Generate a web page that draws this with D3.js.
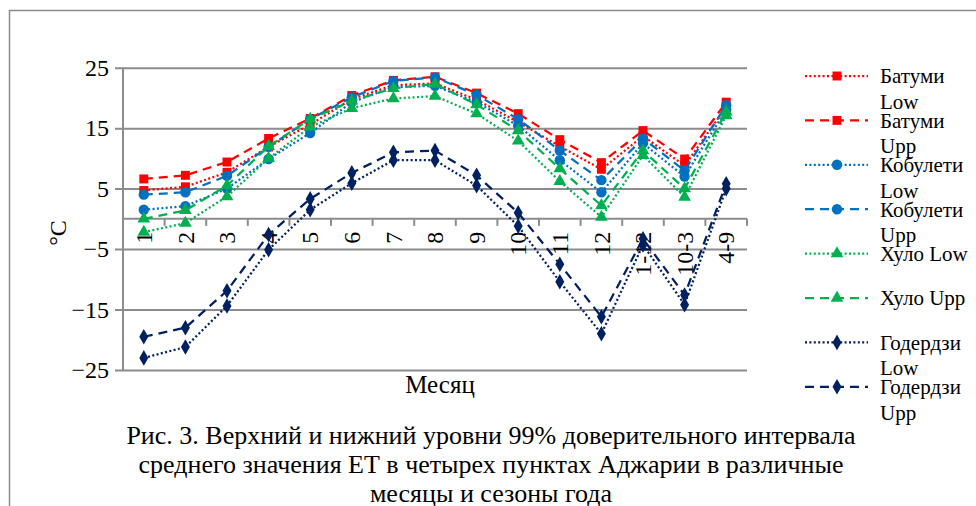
<!DOCTYPE html>
<html>
<head>
<meta charset="utf-8">
<script src="https://cdn.jsdelivr.net/npm/d3@7"></script>
</head>
<body style="margin:0">
<script>
// Months and seasons
const categories = ["1","2","3","4","5","6","7","8","9","10","11","12","1-12","10-3","4-9"];

// Lower / upper bounds of the 99% confidence interval of mean ET, °C
const batumiLow    = [4.7, 5.3, 7.7, 11.9, 15.6, 19.8, 22.1, 22.4, 19.7, 16.0, 12.0, 8.2, 13.7, 8.8, 18.5];
const batumiUpp    = [6.6, 7.2, 9.4, 13.3, 16.6, 20.4, 22.9, 23.5, 20.8, 17.4, 13.1, 9.3, 14.6, 9.9, 19.3];
const kobuletiLow  = [1.5, 2.1, 5.0, 9.9, 14.2, 19.3, 21.8, 22.0, 19.3, 15.4, 9.7, 4.4, 12.5, 7.0, 18.1];
const kobuletiUpp  = [4.0, 4.4, 7.1, 11.9, 16.5, 20.1, 22.8, 23.4, 20.5, 16.5, 11.3, 6.4, 13.3, 8.0, 18.8];
const khuloLow     = [-2.2, -0.7, 3.7, 10.0, 15.2, 18.3, 19.9, 20.3, 17.4, 12.9, 6.2, 0.3, 10.5, 3.6, 17.1];
const khuloUpp     = [0.0, 1.4, 5.5, 12.0, 16.5, 19.5, 21.6, 22.3, 18.9, 14.6, 8.3, 2.2, 11.3, 5.0, 17.7];
const goderdziLow  = [-23.0, -21.2, -14.4, -5.1, 1.5, 5.9, 9.7, 9.7, 5.5, -1.2, -10.4, -19.0, -4.3, -14.2, 5.0];
const goderdziUpp  = [-19.5, -18.0, -11.9, -2.6, 3.3, 7.6, 11.0, 11.3, 7.2, 1.0, -7.5, -16.2, -3.3, -12.6, 5.8];

const seriesNames = ["Батуми Low", "Батуми Upp", "Кобулети Low", "Кобулети Upp",
                     "Хуло Low", "Хуло Upp", "Годердзи Low", "Годердзи Upp"];
const yTicks = [-25, -15, -5, 5, 15, 25];
const captionLines = [
  "Рис. 3. Верхний и нижний уровни 99% доверительного интервала",
  "среднего значения ЕТ в четырех пунктах Аджарии в различные",
  "месяцы и сезоны года"
];

const series = [
  { name: seriesNames[0], values: batumiLow,   color: "#ff0000", dash: "2,2.4", symbol: d3.symbolSquare },
  { name: seriesNames[1], values: batumiUpp,   color: "#ff0000", dash: "9,6",   symbol: d3.symbolSquare },
  { name: seriesNames[2], values: kobuletiLow, color: "#0070c0", dash: "2,2.4", symbol: d3.symbolCircle },
  { name: seriesNames[3], values: kobuletiUpp, color: "#0070c0", dash: "9,6",   symbol: d3.symbolCircle },
  { name: seriesNames[4], values: khuloLow,    color: "#00b050", dash: "2,2.4", symbol: d3.symbolTriangle },
  { name: seriesNames[5], values: khuloUpp,    color: "#00b050", dash: "9,6",   symbol: d3.symbolTriangle },
  { name: seriesNames[6], values: goderdziLow, color: "#002060", dash: "2,2.4", symbol: d3.symbolDiamond },
  { name: seriesNames[7], values: goderdziUpp, color: "#002060", dash: "9,6",   symbol: d3.symbolDiamond }
];

const FONT = "'Liberation Serif', 'Times New Roman', Tinos, serif";
const svg = d3.select("body").append("svg")
  .attr("width", 976).attr("height", 506)
  .style("display", "block");
const gridColor = "#8c8c8c";

// text helper: serif face for every label
function serifText(sel, size) {
  return sel.style("font-family", FONT, "important")
            .attr("font-family", FONT)
            .attr("font-size", size)
            .attr("fill", "#000");
}

// Outer frame (top and left edges)
svg.append("path")
  .attr("d", "M9.5,506 V10.5 H976")
  .attr("fill", "none").attr("stroke", gridColor).attr("stroke-width", 1.5);

const plot = { left: 123, right: 747, top: 67.7, bottom: 370 };

const x = d3.scalePoint().domain(categories).range([plot.left, plot.right]).padding(0.5);
const xBand = d3.scaleBand().domain(categories).range([plot.left, plot.right]);
const y = d3.scaleLinear().domain([-25, 25]).range([plot.bottom, plot.top]);

// Horizontal gridlines with outside tick marks
const yAxis = d3.axisLeft(y).tickValues(yTicks).tickSize(-(plot.right - plot.left)).tickPadding(14);
const gy = svg.append("g").attr("transform", `translate(${plot.left},0)`).call(yAxis);
gy.attr("font-family", FONT).attr("font-size", 24);
gy.select(".domain").remove();
gy.selectAll(".tick line").attr("x1", -8).attr("stroke", gridColor).attr("stroke-width", 2);
serifText(gy.selectAll(".tick text"), 24);

// Vertical axis line
svg.append("line")
  .attr("x1", plot.left).attr("x2", plot.left)
  .attr("y1", plot.top).attr("y2", plot.bottom)
  .attr("stroke", gridColor).attr("stroke-width", 2);

// Category axis crossing at zero
const y0 = y(0);
svg.append("line")
  .attr("x1", plot.left).attr("x2", plot.right)
  .attr("y1", y0).attr("y2", y0)
  .attr("stroke", gridColor).attr("stroke-width", 2);
const boundaries = categories.map(c => xBand(c)).concat([plot.right]);
svg.append("g").selectAll("line").data(boundaries).join("line")
  .attr("x1", d => d).attr("x2", d => d)
  .attr("y1", y0).attr("y2", y0 + 7)
  .attr("stroke", gridColor).attr("stroke-width", 2);

// Rotated category labels
serifText(svg.append("g").selectAll("text").data(categories).join("text"), 24)
  .attr("transform", d => `translate(${x(d)},${y0 + 13}) rotate(-90)`)
  .attr("text-anchor", "end")
  .attr("dy", "0.34em")
  .text(d => d);

// Series lines and markers
const line = d3.line().x((d, i) => x(categories[i])).y(d => y(d));
function markerArea(sym) {
  if (sym === d3.symbolSquare) return 80;
  if (sym === d3.symbolCircle) return 85;
  return 70;
}

series.forEach(s => {
  const g = svg.append("g");
  g.append("path")
    .attr("d", line(s.values))
    .attr("fill", "none")
    .attr("stroke", s.color)
    .attr("stroke-width", 2.25)
    .attr("stroke-dasharray", s.dash);
  g.selectAll("path.m").data(s.values).join("path")
    .attr("class", "m")
    .attr("transform", (d, i) => `translate(${x(categories[i])},${y(d)})`)
    .attr("d", d3.symbol().type(s.symbol).size(markerArea(s.symbol)))
    .attr("fill", s.color);
});

// Axis titles
serifText(svg.append("text"), 24)
  .attr("transform", "translate(58,233) rotate(-90)")
  .attr("text-anchor", "middle").attr("dy", "0.35em")
  .text("°C");

serifText(svg.append("text"), 25)
  .attr("x", 440).attr("y", 393)
  .attr("text-anchor", "middle")
  .text("Месяц");

// Caption
serifText(svg.append("g").selectAll("text").data(captionLines).join("text"), 26)
  .attr("x", 491).attr("y", (d, i) => 444 + i * 29)
  .attr("text-anchor", "middle")
  .text(d => d);

// Legend: long names break before the Low/Upp suffix
const legendTop = 76, legendStep = 44.4, legendFont = 21, legendLineH = 25.5;
const lg = svg.append("g");
series.forEach((s, i) => {
  const ly = legendTop + i * legendStep;
  lg.append("line")
    .attr("x1", 805).attr("x2", 868).attr("y1", ly).attr("y2", ly)
    .attr("stroke", s.color).attr("stroke-width", 2.25)
    .attr("stroke-dasharray", s.dash);
  lg.append("path")
    .attr("transform", `translate(837,${ly})`)
    .attr("d", d3.symbol().type(s.symbol).size(markerArea(s.symbol)))
    .attr("fill", s.color);
  const lines = s.name.length > 8
    ? [s.name.slice(0, s.name.lastIndexOf(" ")), s.name.slice(s.name.lastIndexOf(" ") + 1)]
    : [s.name];
  serifText(lg.append("text"), legendFont)
    .selectAll("tspan").data(lines).join("tspan")
    .attr("x", 880)
    .attr("y", (d, k) => ly + k * legendLineH)
    .attr("dy", "0.35em")
    .text(d => d);
});
</script>
</body>
</html>
